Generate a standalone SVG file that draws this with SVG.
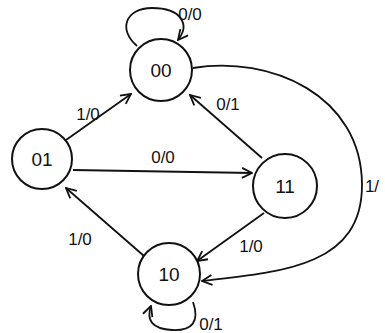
<svg xmlns="http://www.w3.org/2000/svg" width="385" height="333" viewBox="0 0 385 333">
<defs>
<style>
.n{fill:#fff;stroke:#111;stroke-width:2}
.e{fill:none;stroke:#111;stroke-width:1.8}
.t{font-family:"Liberation Sans","DejaVu Sans",sans-serif;font-size:19px;fill:#111;text-anchor:middle}
.l{font-family:"Liberation Sans","DejaVu Sans",sans-serif;font-size:17px;fill:#111;text-anchor:middle}
</style>
<marker id="a" viewBox="0 0 12 12" refX="11" refY="6" markerWidth="12" markerHeight="12" markerUnits="userSpaceOnUse" orient="auto">
<path d="M1,1 L11,6 L1,11" fill="none" stroke="#111" stroke-width="1.8"/>
</marker>
</defs>
<rect width="385" height="333" fill="#fff"/>
<g id="connectors">
<path class="e" d="M137,46 C118,30 125,8 152,8 C182,8 190,25 178,40" marker-end="url(#a)"/>
<path class="e" d="M66,140 L131,94" marker-end="url(#a)"/>
<path class="e" d="M73,170 L252,173" marker-end="url(#a)"/>
<path class="e" d="M262,158 L190,95" marker-end="url(#a)"/>
<path class="e" d="M264,213 L197,261" marker-end="url(#a)"/>
<path class="e" d="M144,256 L66,188" marker-end="url(#a)"/>
<path class="e" d="M193,68 C270,55 362,95 362,185 C362,265 285,272 202,281" marker-end="url(#a)"/>
<path class="e" d="M193,302 C200,322 192,331 172,330 C152,329 146,320 151,306" marker-end="url(#a)"/>
</g>
<g id="n00"><circle class="n" cx="161" cy="70" r="31"/><text class="t" x="161" y="77">00</text></g>
<g id="n01"><circle class="n" cx="42" cy="159" r="30"/><text class="t" x="42" y="166">01</text></g>
<g id="n11"><circle class="n" cx="285" cy="186" r="32"/><text class="t" x="285" y="193">11</text></g>
<g id="n10"><circle class="n" cx="169" cy="274" r="31"/><text class="t" x="169" y="281">10</text></g>
<g id="labels">
<text class="l" x="190" y="20">0/0</text>
<text class="l" x="88" y="120">1/0</text>
<text class="l" x="163" y="163">0/0</text>
<text class="l" x="228" y="110">0/1</text>
<text class="l" x="251" y="252">1/0</text>
<text class="l" x="80" y="245">1/0</text>
<text class="l" x="372" y="192">1/</text>
<text class="l" x="211" y="330">0/1</text>
</g>
</svg>
